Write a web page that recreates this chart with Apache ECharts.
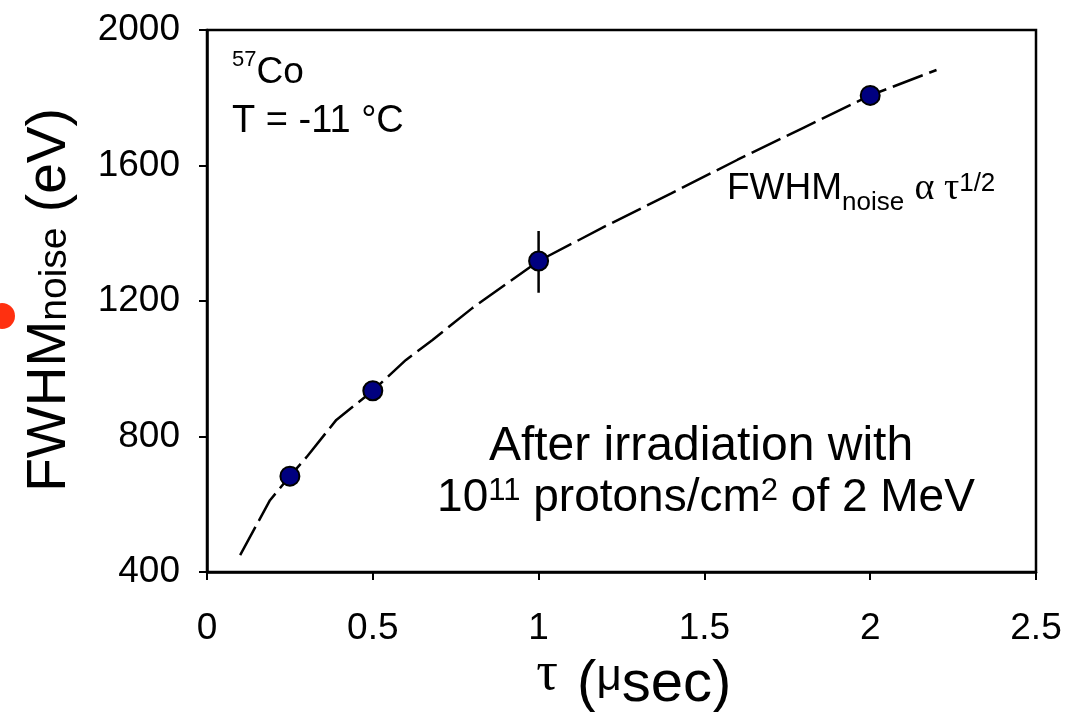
<!DOCTYPE html>
<html>
<head>
<meta charset="utf-8">
<script src="https://cdn.jsdelivr.net/npm/echarts@6/dist/echarts.min.js"></script>
<style>
html,body{margin:0;padding:0;background:#fff;}
#chart{width:1088px;height:712px;}
</style>
</head>
<body>
<div id="chart"></div>
<script>
// Measured points (tau in microseconds, FWHM noise in eV)
const tauPts = [0.25, 0.5, 1.0, 2.0];
const fwhmPts = [683, 935, 1318, 1807];
// Error bar on the 1 usec point
const errTau = [1.0];
const errLow = [1224];
const errHigh = [1407];
// Dashed fit curve
const fitTau = [0.1, 0.19, 0.25, 0.3, 0.39, 0.5, 0.6, 0.68, 0.8, 1.0, 1.2, 1.4, 1.6, 1.8, 2.0, 2.2];
const fitVals = [450, 612, 683, 739, 849, 935, 1026, 1085, 1179, 1318, 1420, 1518, 1617, 1712, 1807, 1882];
// Axis ticks
const xTicks = [0, 0.5, 1, 1.5, 2, 2.5];
const yTicks = [400, 800, 1200, 1600, 2000];

const SANS = '"Liberation Sans", Arial, Helvetica, sans-serif';
const SERIF = '"Liberation Serif", "Times New Roman", serif';

const chart = echarts.init(document.getElementById('chart'), null, {renderer: 'canvas'});

function txt(x, y, align, text, rich, vAlign) {
  vAlign = vAlign || 'top';
  return {
    type: 'text',
    z: 100,
    style: {
      x: x, y: y,
      text: text,
      rich: rich,
      textAlign: align, align: align,
      textVerticalAlign: vAlign, verticalAlign: vAlign,
      fill: '#000'
    }
  };
}

const option = {
  backgroundColor: '#fff',
  animation: false,
  grid: {
    left: 207, right: 52, top: 30, bottom: 140,
    show: true, borderColor: '#000', borderWidth: 2.5, backgroundColor: 'transparent'
  },
  xAxis: {
    type: 'value',
    min: xTicks[0], max: xTicks[xTicks.length - 1], interval: 0.5,
    axisLine: {show: true, onZero: false, lineStyle: {color: '#000', width: 2.5}},
    axisTick: {show: true, inside: false, length: 8, lineStyle: {color: '#000', width: 2}},
    axisLabel: {color: '#000', fontSize: 37, fontFamily: SANS, margin: 38,
      showMinLabel: true, showMaxLabel: true,
      formatter: v => String(v)},
    splitLine: {show: false}
  },
  yAxis: {
    type: 'value',
    min: yTicks[0], max: yTicks[yTicks.length - 1], interval: 400,
    axisLine: {show: true, onZero: false, lineStyle: {color: '#000', width: 2.5}},
    axisTick: {show: true, inside: false, length: 8, lineStyle: {color: '#000', width: 2}},
    axisLabel: {color: '#000', fontSize: 37, fontFamily: SANS, margin: 27,
      showMinLabel: true, showMaxLabel: true,
      formatter: v => String(v)},
    splitLine: {show: false}
  },
  series: [
    {
      type: 'line',
      data: fitTau.map((t, i) => [t, fitVals[i]]),
      symbol: 'none',
      lineStyle: {color: '#000', width: 2.5, type: [32, 7]},
      z: 2
    },
    {
      type: 'line',
      data: [[errTau[0], errLow[0]], [errTau[0], errHigh[0]]],
      symbol: 'none',
      lineStyle: {color: '#000', width: 2.5},
      z: 3
    },
    {
      type: 'scatter',
      data: tauPts.map((t, i) => [t, fwhmPts[i]]),
      symbol: 'circle',
      symbolSize: 19,
      itemStyle: {color: '#000080', borderColor: '#000', borderWidth: 2, opacity: 1},
      z: 5
    }
  ],
  graphic: [
    // red blob at the left edge
    {type: 'circle', shape: {cx: 2, cy: 316, r: 13}, style: {fill: '#ff3010'}, z: 100},
    // 57Co
    txt(232, 47, 'left', '{p|57}{m|Co}', {
      m: {fontSize: 37, fontFamily: SANS, lineHeight: 52},
      p: {fontSize: 22, fontFamily: SANS, lineHeight: 22, verticalAlign: 'top', padding: [2, 0, 0, 0]}
    }),
    // T = -11 °C
    txt(232, 103, 'left', '{m|T = -11 °C}', {
      m: {fontSize: 38, fontFamily: SANS, lineHeight: 38}
    }),
    // FWHM_noise alpha tau^1/2
    txt(727, 162, 'left', '{m|FWHM}{s|noise}{m| }{g|α τ}{p|1/2}', {
      m: {fontSize: 37, fontFamily: SANS, lineHeight: 54},
      s: {fontSize: 26, fontFamily: SANS, lineHeight: 26, verticalAlign: 'bottom'},
      g: {fontSize: 38, fontFamily: SERIF, lineHeight: 54},
      p: {fontSize: 26, fontFamily: SANS, lineHeight: 26, verticalAlign: 'top', padding: [9, 0, 0, 0]}
    }),
    // After irradiation with
    txt(701, 423, 'center', '{m|After irradiation with}', {
      m: {fontSize: 48, fontFamily: SANS, lineHeight: 48}
    }),
    txt(706, 475, 'center', '{m|10}{p|11}{m| protons/cm}{p|2}{m| of 2 MeV}', {
      m: {fontSize: 46, fontFamily: SANS, lineHeight: 46},
      p: {fontSize: 31, fontFamily: SANS, lineHeight: 31, verticalAlign: 'top', padding: [1, 0, 0, 0]}
    }),
    // y axis title
    {
      type: 'text', z: 100,
      x: 50, y: 300, rotation: Math.PI / 2,
      style: {
        x: 0, y: 0,
        text: '{m|FWHM}{s|noise}{m| (eV)}',
        rich: {
          m: {fontSize: 55, fontFamily: SANS, lineHeight: 50},
          s: {fontSize: 39, fontFamily: SANS, lineHeight: 39, verticalAlign: 'bottom'}
        },
        textAlign: 'center', align: 'center',
        textVerticalAlign: 'middle', verticalAlign: 'middle',
        fill: '#000'
      }
    },
    // x axis title: raised tau, then "(μsec)"
    txt(558, 675, 'right', '{t|τ}', {
      t: {fontSize: 54, fontFamily: SERIF, lineHeight: 54}
    }, 'middle'),
    txt(561, 656, 'left', '{m| (}{u|μ}{m|sec)}', {
      m: {fontSize: 58, fontFamily: SANS, lineHeight: 58},
      u: {fontSize: 44, fontFamily: SANS, lineHeight: 40, verticalAlign: 'top'}
    })
  ]
};
chart.setOption(option);
</script>
</body>
</html>
